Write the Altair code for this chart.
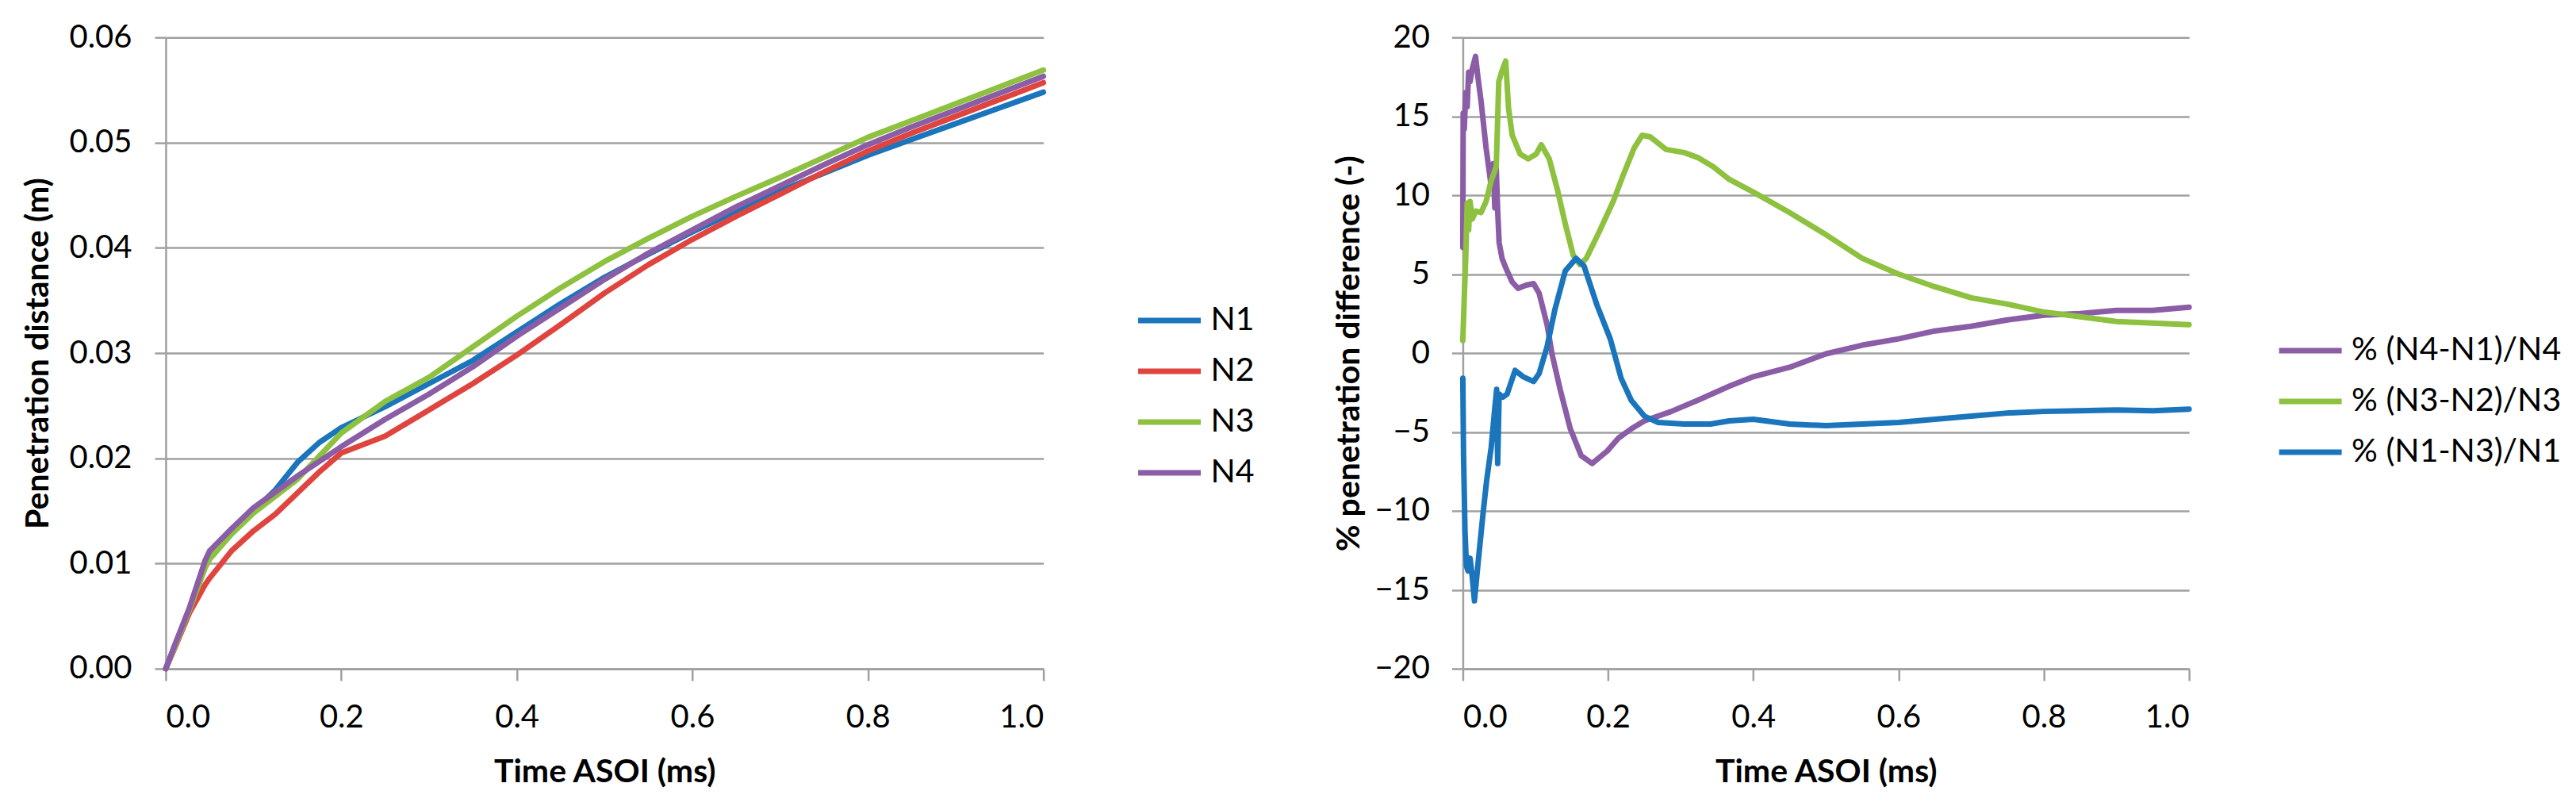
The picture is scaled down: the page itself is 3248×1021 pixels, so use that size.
import altair as alt
import pandas as pd

# ---------------- Left panel data: penetration distance (m) ----------------
t_left = [0, 0.01, 0.027, 0.045, 0.05, 0.075, 0.1, 0.125, 0.15, 0.175, 0.2, 0.25, 0.3,
          0.35, 0.4, 0.45, 0.5, 0.55, 0.6, 0.65, 0.7, 0.75, 0.8, 0.85, 0.9, 0.95, 1.0]
n1 = [0, 0.0020, 0.0055, 0.0098, 0.0106, 0.0130, 0.0150, 0.0170, 0.0196, 0.0215, 0.0229, 0.0249, 0.0271,
      0.0293, 0.0320, 0.0347, 0.0372, 0.0394, 0.0415, 0.0435, 0.0454, 0.0471, 0.0488, 0.0503, 0.0518, 0.0533, 0.0548]
n2 = [0, 0.0019, 0.0053, 0.0080, 0.0086, 0.0112, 0.0131, 0.0147, 0.0167, 0.0187, 0.0205, 0.0221, 0.0246,
      0.0271, 0.0298, 0.0327, 0.0357, 0.0384, 0.0408, 0.0430, 0.0451, 0.0472, 0.0492, 0.0509, 0.0525, 0.0541, 0.0557]
n3 = [0, 0.0020, 0.0056, 0.0096, 0.0104, 0.0128, 0.0148, 0.0164, 0.0180, 0.0202, 0.0224, 0.0254, 0.0277,
      0.0306, 0.0335, 0.0362, 0.0387, 0.0409, 0.0430, 0.0449, 0.0467, 0.0486, 0.0505, 0.0521, 0.0537, 0.0553, 0.0569]
n4 = [0, 0.0022, 0.0058, 0.0103, 0.0112, 0.0133, 0.0153, 0.0168, 0.0183, 0.0197, 0.0211, 0.0237, 0.0261,
      0.0287, 0.0316, 0.0343, 0.0370, 0.0395, 0.0417, 0.0439, 0.0459, 0.0479, 0.0498, 0.0515, 0.0531, 0.0547, 0.0563]
left_names = ["N1", "N2", "N3", "N4"]
left_colors = ["#1B75BC", "#E0443E", "#8DC13F", "#8A5DA6"]

# ---------------- Right panel data: % penetration difference ----------------
t_a = [0, 0.0005, 0.002, 0.004, 0.006, 0.008, 0.010, 0.013, 0.0175, 0.021, 0.025, 0.032, 0.039, 0.042,
       0.044, 0.046, 0.048, 0.050, 0.054, 0.06, 0.068, 0.076, 0.087, 0.0975, 0.105, 0.116, 0.123, 0.134,
       0.148, 0.163, 0.178, 0.199, 0.214, 0.232, 0.25, 0.287, 0.323, 0.367, 0.4, 0.45, 0.5, 0.55, 0.6,
       0.65, 0.7, 0.75, 0.8, 0.85, 0.9, 0.95, 1.0]
d_41 = [6.7, 15.2, 14.2, 16.5, 15.6, 17.8, 17.2, 18.0, 18.8, 17.4, 16.0, 13.0, 10.6, 12.0,
        9.2, 11.8, 9.0, 7.0, 6.0, 5.3, 4.5, 4.1, 4.3, 4.4, 3.8, 1.8, -0.1, -2.3,
        -4.8, -6.5, -7.0, -6.2, -5.4, -4.8, -4.3, -3.7, -3.0, -2.1, -1.5, -0.9, -0.05, 0.5, 0.9,
        1.4, 1.7, 2.1, 2.4, 2.5, 2.7, 2.7, 2.9]

t_b = [0, 0.002, 0.004, 0.006, 0.008, 0.010, 0.013, 0.018, 0.025, 0.032, 0.039, 0.046, 0.0495, 0.054,
       0.059, 0.063, 0.068, 0.079, 0.090, 0.101, 0.108, 0.119, 0.130, 0.141, 0.152, 0.161, 0.170, 0.188,
       0.207, 0.221, 0.236, 0.247, 0.258, 0.280, 0.305, 0.323, 0.345, 0.367, 0.4, 0.45, 0.5, 0.55, 0.6,
       0.65, 0.7, 0.75, 0.8, 0.85, 0.9, 0.95, 1.0]
d_32 = [0.8, 3.5, 6.0, 9.5, 7.8, 9.6, 8.5, 9.0, 8.9, 9.6, 10.9, 11.8, 17.2, 17.9,
        18.5, 15.5, 13.8, 12.6, 12.3, 12.6, 13.2, 12.3, 10.4, 8.2, 6.2, 5.6, 6.0, 7.7,
        9.6, 11.3, 13.0, 13.8, 13.7, 12.9, 12.7, 12.4, 11.8, 11.0, 10.2, 8.9, 7.5, 6.0, 5.0,
        4.2, 3.5, 3.1, 2.6, 2.3, 2.0, 1.9, 1.8]

t_c = [0, 0.001, 0.003, 0.005, 0.007, 0.010, 0.013, 0.016, 0.021, 0.028, 0.033, 0.039, 0.044, 0.0466,
       0.048, 0.050, 0.055, 0.061, 0.072, 0.083, 0.0975, 0.105, 0.116, 0.127, 0.141, 0.156, 0.167, 0.185,
       0.203, 0.218, 0.232, 0.25, 0.269, 0.305, 0.341, 0.367, 0.4, 0.45, 0.5, 0.55, 0.6, 0.65, 0.7,
       0.75, 0.8, 0.85, 0.9, 0.95, 1.0]
d_13 = [-1.6, -6.5, -11.3, -13.5, -13.8, -13.0, -14.2, -15.7, -13.3, -10.1, -8.0, -6.0, -3.5, -2.3,
        -7.0, -2.6, -2.8, -2.6, -1.1, -1.5, -1.8, -1.3, 0.4, 2.8, 5.2, 6.0, 5.5, 3.0,
        0.9, -1.6, -3.0, -4.0, -4.4, -4.5, -4.5, -4.3, -4.2, -4.5, -4.6, -4.5, -4.4, -4.2, -4.0,
        -3.8, -3.7, -3.65, -3.6, -3.65, -3.55]
right_names = ["% (N4-N1)/N4", "% (N3-N2)/N3", "% (N1-N3)/N1"]
right_colors = ["#8A5DA6", "#8DC13F", "#1B75BC"]

x_ticks = [0.0, 0.2, 0.4, 0.6, 0.8, 1.0]
y_ticks_left = [0.0, 0.01, 0.02, 0.03, 0.04, 0.05, 0.06]
y_ticks_right = [-20, -15, -10, -5, 0, 5, 10, 15, 20]

# ---------------- build tables ----------------
rows = []
for name, vals in zip(left_names, [n1, n2, n3, n4]):
    for t, v in zip(t_left, vals):
        rows.append({"t": t, "v": v, "s": name})
df_left = pd.DataFrame(rows)

rows = []
for name, ts, vals in zip(right_names, [t_a, t_b, t_c], [d_41, d_32, d_13]):
    for t, v in zip(ts, vals):
        rows.append({"t": t, "v": v, "s": name})
df_right = pd.DataFrame(rows)

FONT = "Lato"
GRID = "#A0A0A0"
PW_L, PW_R, PH = 1107, 916, 796


def x_axis():
    return alt.Axis(values=x_ticks, format=".1f", title="Time ASOI (ms)", grid=False,
                    tickSize=15, labelPadding=27, titleBaseline="alphabetic", titleY=143)


left = alt.Chart(df_left).mark_line(strokeWidth=7, strokeCap="round", strokeJoin="round").encode(
    x=alt.X("t:Q", scale=alt.Scale(domain=[0, 1], nice=False), axis=x_axis()),
    y=alt.Y("v:Q", scale=alt.Scale(domain=[0, 0.06], nice=False),
            axis=alt.Axis(values=y_ticks_left, format=".2f", title="Penetration distance (m)",
                          tickSize=14, labelPadding=29, titleX=-160, titleY=PH / 2,
                          titleBaseline="middle")),
    color=alt.Color("s:N", sort=left_names,
                    scale=alt.Scale(domain=left_names, range=left_colors),
                    legend=alt.Legend(title=None, orient="none", legendX=1223, legendY=314)),
).properties(width=PW_L, height=PH)

right = alt.Chart(df_right).mark_line(strokeWidth=7, strokeCap="round", strokeJoin="round").encode(
    x=alt.X("t:Q", scale=alt.Scale(domain=[0, 1], nice=False), axis=x_axis()),
    y=alt.Y("v:Q", scale=alt.Scale(domain=[-20, 20], nice=False),
            axis=alt.Axis(values=y_ticks_right, format="d", title="% penetration difference (-)",
                          tickSize=14, labelPadding=28, titleX=-143, titleY=PH / 2,
                          titleBaseline="middle")),
    color=alt.Color("s:N", sort=right_names,
                    scale=alt.Scale(domain=right_names, range=right_colors),
                    legend=alt.Legend(title=None, orient="none", legendX=1026, legendY=352)),
).properties(width=PW_R, height=PH)

chart = alt.hconcat(left, right, spacing=529, bounds="flush").resolve_scale(
    color="independent"
).properties(
    padding={"left": 20, "top": 19, "right": 10, "bottom": 10},
    background="white",
).configure_view(stroke=None).configure_axis(
    labelFont=FONT, labelFontSize=40, labelColor="#000000",
    titleFont=FONT, titleFontSize=41, titleFontWeight="bold", titleColor="#000000",
    domainColor=GRID, domainWidth=2.5, tickColor=GRID, tickWidth=2.5,
    gridColor=GRID, gridWidth=2.5, gridOpacity=1,
).configure_legend(
    labelFont=FONT, labelFontSize=41, labelColor="#000000", labelLimit=0,
    symbolType="stroke", symbolStrokeWidth=7, symbolSize=6241, labelOffset=9,
    rowPadding=1, padding=0,
)

chart.save("out.html", embed_options={"renderer": "svg", "actions": False})
